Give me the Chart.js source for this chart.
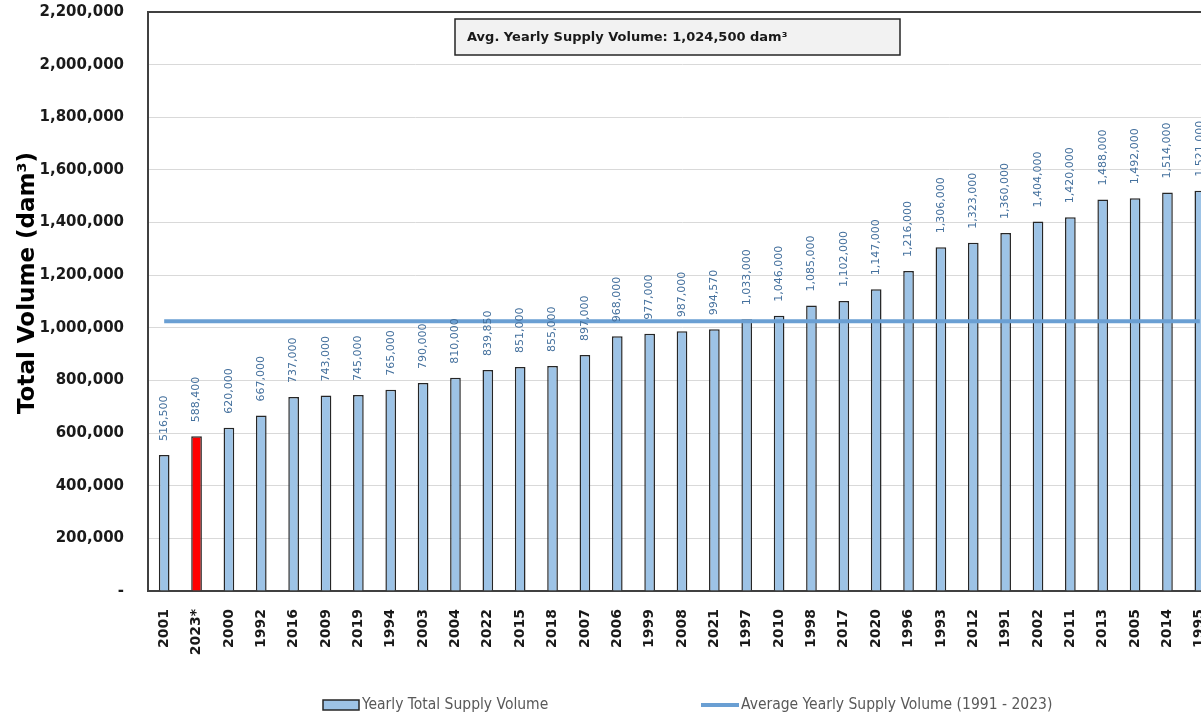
<!DOCTYPE html>
<html>
<head>
<meta charset="utf-8">
<script src="https://cdn.jsdelivr.net/npm/chart.js@4.4.1/dist/chart.umd.min.js"></script>
<style>
  html, body { margin: 0; padding: 0; background: #fff; overflow: hidden; }
  #wrap { position: relative; width: 1218px; height: 714px; }
</style>
</head>
<body>
<div id="wrap"><canvas id="supplyChart"></canvas></div>
<script>
// years sorted by volume, lowest first
const years = [
    '2001', '2023*', '2000', '1992', '2016', '2009', '2019', '1994', '2003', '2004', '2022',
    '2015', '2018', '2007', '2006', '1999', '2008', '2021', '1997', '2010', '1998', '2017',
    '2020', '1996', '1993', '2012', '1991', '2002', '2011', '2013', '2005', '2014', '1995'
];
const supplyVolume = [
    516500, 588400, 620000, 667000, 737000, 743000, 745000, 765000, 790000, 810000, 839850,
    851000, 855000, 897000, 968000, 977000, 987000, 994570, 1033000, 1046000, 1085000, 1102000,
    1147000, 1216000, 1306000, 1323000, 1360000, 1404000, 1420000, 1488000, 1492000, 1514000, 1521000
];
const avgVolume = 1024500;
const avgLine = years.map(() => avgVolume);
const yTicks = [0, 200000, 400000, 600000, 800000, 1000000, 1200000, 1400000, 1600000, 1800000, 2000000, 2200000];

const fmt = v => v.toLocaleString('en-US');
const barColors = years.map(y => y === '2023*' ? '#ff0000' : '#9dc3e6');

// value labels above each bar, rotated
const barLabels = {
    id: 'barLabels',
    afterDatasetsDraw(chart) {
        const ctx = chart.ctx;
        const meta = chart.getDatasetMeta(0);
        ctx.save();
        ctx.font = '11px "DejaVu Sans"';
        ctx.fillStyle = '#44709d';
        ctx.textAlign = 'left';
        ctx.textBaseline = 'middle';
        meta.data.forEach((bar, i) => {
            ctx.save();
            ctx.translate(bar.x, bar.y - 14);
            ctx.rotate(-Math.PI / 2);
            ctx.fillText(fmt(supplyVolume[i]), 0, 0);
            ctx.restore();
        });
        ctx.restore();
    }
};

// top frame line, axis title, note box and legend
const extras = {
    id: 'extras',
    afterDraw(chart) {
        const ctx = chart.ctx;
        const a = chart.chartArea;
        ctx.save();
        ctx.strokeStyle = '#404040';
        ctx.lineWidth = 2;
        ctx.beginPath();
        ctx.moveTo(a.left, a.top);
        ctx.lineTo(a.right, a.top);
        ctx.stroke();

        // y axis title
        ctx.save();
        ctx.translate(28, 283);
        ctx.rotate(-Math.PI / 2);
        ctx.fillStyle = '#000';
        ctx.font = 'bold 23px "DejaVu Sans"';
        ctx.textAlign = 'center';
        ctx.textBaseline = 'middle';
        ctx.fillText('Total Volume (dam³)', 0, 0);
        ctx.restore();

        // note box
        ctx.fillStyle = '#f2f2f2';
        ctx.fillRect(455, 19, 445, 36);
        ctx.strokeStyle = '#262626';
        ctx.lineWidth = 1.5;
        ctx.strokeRect(455, 19, 445, 36);
        ctx.fillStyle = '#1a1a1a';
        ctx.font = 'bold 13px "DejaVu Sans"';
        ctx.textAlign = 'left';
        ctx.textBaseline = 'middle';
        ctx.fillText('Avg. Yearly Supply Volume: ' + fmt(avgVolume) + ' dam³', 467, 38);

        // legend
        ctx.fillStyle = '#9dc3e6';
        ctx.fillRect(323, 700, 36, 10);
        ctx.strokeStyle = '#262626';
        ctx.lineWidth = 1.5;
        ctx.strokeRect(323, 700, 36, 10);
        ctx.strokeStyle = '#6a9fd3';
        ctx.lineWidth = 4;
        ctx.beginPath();
        ctx.moveTo(701, 705);
        ctx.lineTo(739, 705);
        ctx.stroke();
        ctx.fillStyle = '#595959';
        ctx.font = '15.5px "DejaVu Sans Condensed"';
        ctx.fillText('Yearly Total Supply Volume', 362, 705);
        ctx.fillText('Average Yearly Supply Volume (1991 - 2023)', 741, 705);
        ctx.restore();
    }
};

new Chart(document.getElementById('supplyChart'), {
    data: {
        labels: years,
        datasets: [{
            type: 'bar',
            label: 'Yearly Total Supply Volume',
            data: supplyVolume,
            backgroundColor: barColors,
            borderColor: '#262626',
            borderWidth: 1.5,
            barPercentage: 0.33,
            categoryPercentage: 1,
            order: 1
        }, {
            type: 'line',
            label: 'Average Yearly Supply Volume (1991 - 2023)',
            data: avgLine,
            borderColor: '#6a9fd3',
            borderWidth: 4,
            pointRadius: 0,
            order: 0
        }]
    },
    options: {
        responsive: true,
        maintainAspectRatio: false,
        animation: false,
        layout: {
            padding: { top: 12, right: 2, bottom: 45, left: 0 }
        },
        plugins: {
            legend: { display: false },
            tooltip: { enabled: false }
        },
        scales: {
            x: {
                grid: { display: false },
                border: { color: '#404040', width: 2 },
                ticks: {
                    color: '#1a1a1a',
                    font: { family: 'DejaVu Sans', size: 14, weight: 'bold' },
                    minRotation: 90,
                    maxRotation: 90,
                    autoSkip: false,
                    padding: 10
                },
                afterFit(scale) {
                    scale.height = 78;
                    scale.paddingLeft = 0;
                    scale.paddingRight = 0;
                }
            },
            y: {
                min: 0,
                max: 2200000,
                afterBuildTicks(scale) { scale.ticks = yTicks.map(v => ({ value: v })); },
                grid: { color: '#d9d9d9', drawTicks: false },
                border: { color: '#404040', width: 2 },
                ticks: {
                    color: '#1a1a1a',
                    font: { family: 'DejaVu Sans', size: 15, weight: 'bold' },
                    padding: 24,
                    callback: v => v === 0 ? '-' : fmt(v)
                },
                afterFit(scale) {
                    scale.width = 148;
                    scale.paddingTop = 1;
                    scale.paddingBottom = 0;
                }
            }
        }
    },
    plugins: [barLabels, extras]
});
</script>
</body>
</html>
